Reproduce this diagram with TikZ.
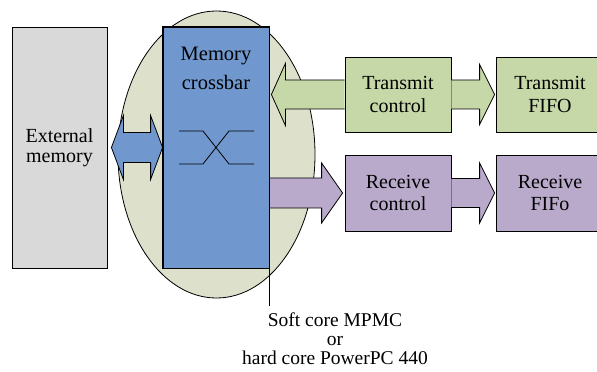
\documentclass[tikz,border=0pt]{standalone}
\usepackage{fontspec}
\setmainfont{Liberation Serif}
\usetikzlibrary{calc,shapes.geometric}

\definecolor{memgray}{HTML}{D9D9D9}
\definecolor{xbarblue}{HTML}{7098CE}
\definecolor{corebg}{HTML}{DDE1CC}
\definecolor{txgreen}{HTML}{C6D8A8}
\definecolor{rxpurple}{HTML}{B9AACC}

\tikzset{
  outline/.style={draw=black, line width=0.8pt},
  block/.style={outline, rectangle, inner sep=0pt, align=center,
    font=\fontsize{20}{23}\selectfont},
  fatarrow/.style={outline, line join=miter},
  caption/.style={align=center, font=\fontsize{19.5}{19}\selectfont}
}

\begin{document}
\begin{tikzpicture}[x=1pt, y=1pt]
  \useasboundingbox (0,0) rectangle (597,372);
  \clip (0,0) rectangle (597,372);

  % processor core region
  \node[ellipse, outline, fill=corebg, minimum width=197pt, minimum height=287pt,
        inner sep=0pt] (core) at (216.5,217.5) {};

  % memory side
  \node[block, fill=memgray, minimum width=95pt, minimum height=241pt,
        font=\fontsize{20}{19.5}\selectfont] (ext) at (59.5,224.5) {External\\memory};
  \node[block, fill=xbarblue, minimum width=106pt, minimum height=241pt] (xbar) at (216,224.5) {};
  \node[font=\fontsize{20.5}{29}\selectfont, align=center] (xbartxt) at (216,304) {Memory\\crossbar};

  % crossbar switch symbol
  \draw[line width=0.8pt] ([shift={(-37,16.5)}]xbar.center) -- ([shift={(-13,16.5)}]xbar.center)
        -- ([shift={(13,-16.5)}]xbar.center) -- ([shift={(38,-16.5)}]xbar.center);
  \draw[line width=0.8pt] ([shift={(-37,-16.5)}]xbar.center) -- ([shift={(-13,-16.5)}]xbar.center)
        -- ([shift={(13,16.5)}]xbar.center) -- ([shift={(38,16.5)}]xbar.center);

  % transmit and receive paths
  \node[block, fill=txgreen, minimum width=106pt, minimum height=75pt] (tc) at (398,277.5) {Transmit\\control};
  \node[block, fill=txgreen, minimum width=108pt, minimum height=75pt] (tf) at (550,277.5) {Transmit\\FIFO};
  \node[block, fill=rxpurple, minimum width=106pt, minimum height=76pt,
        font=\fontsize{20}{22}\selectfont] (rc) at (398,179) {Receive\\control};
  \node[block, fill=rxpurple, minimum width=108pt, minimum height=76pt,
        font=\fontsize{20}{22}\selectfont] (rf) at (550,179) {Receive\\FIFo};

  % external memory <-> crossbar
  \coordinate (bl) at ($(ext.east)+(4,0)$);
  \coordinate (br) at (xbar.west);
  \draw[fatarrow, fill=xbarblue] (bl) -- ($(bl)+(12,32)$) -- ($(bl)+(12,15)$)
    -- ($(br)+(-12,15)$) -- ($(br)+(-12,32)$) -- (br) -- ($(br)+(-12,-32)$)
    -- ($(br)+(-12,-15)$) -- ($(bl)+(12,-15)$) -- ($(bl)+(12,-32)$) -- cycle;

  % transmit control -> crossbar
  \coordinate (gt) at ($(xbar.east |- tc.west)+(2,0)$);
  \draw[fatarrow, fill=txgreen] ($(tc.west)+(0,14.5)$)
    -- ($(gt)+(14,14.5)$) -- ($(gt)+(14,31)$) -- (gt) -- ($(gt)+(14,-31)$)
    -- ($(gt)+(14,-14.5)$) -- ($(tc.west)+(0,-14.5)$);

  % transmit control -> transmit FIFO
  \coordinate (tt) at ($(tf.west)+(-1,0)$);
  \draw[fatarrow, fill=txgreen] ($(tc.east)+(0,14.5)$) -- ($(tt)+(-15,14.5)$)
    -- ($(tt)+(-15,30)$) -- (tt) -- ($(tt)+(-15,-30)$) -- ($(tt)+(-15,-14.5)$)
    -- ($(tc.east)+(0,-14.5)$);

  % crossbar -> receive control
  \coordinate (xs) at (xbar.east |- rc.west);
  \coordinate (rt) at ($(rc.west)+(-2,0)$);
  \draw[fatarrow, fill=rxpurple] ($(xs)+(0,15)$) -- ($(rt)+(-21,15)$)
    -- ($(rt)+(-21,30)$) -- (rt) -- ($(rt)+(-21,-30)$) -- ($(rt)+(-21,-15)$)
    -- ($(xs)+(0,-15)$);

  % receive control -> receive FIFO
  \coordinate (rr) at ($(rf.west)+(-1,0)$);
  \draw[fatarrow, fill=rxpurple] ($(rc.east)+(0,14.5)$) -- ($(rr)+(-15,14.5)$)
    -- ($(rr)+(-15,30)$) -- (rr) -- ($(rr)+(-15,-30)$) -- ($(rr)+(-15,-14.5)$)
    -- ($(rc.east)+(0,-14.5)$);

  % redraw box borders over the arrow ends
  \draw[outline] (xbar.south west) rectangle (xbar.north east);

  % core label
  \node[caption] (lbl) at (335,33) {Soft core MPMC\\or\\hard core PowerPC 440};
  \coordinate (lineend) at ($(xbar.south east)+(0,-38)$);
  \draw[line width=0.8pt] (xbar.south east) -- (lineend);
\end{tikzpicture}
\end{document}
